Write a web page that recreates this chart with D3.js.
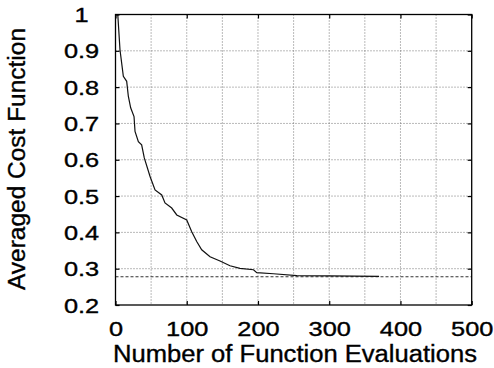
<!DOCTYPE html>
<html>
<head>
<meta charset="UTF-8">
<script src="https://d3js.org/d3.v7.min.js"></script>
<style>
  body { margin: 0; background: #fff; }
  text { font-family: "Liberation Sans", Arial, Helvetica, sans-serif; fill: #000; stroke: #000; stroke-width: 0.35px; }
</style>
</head>
<body>
<div id="chart"></div>
<script>
// averaged cost vs. number of function evaluations
var evals = [3.2, 6.3, 11, 15.7, 18, 21.3, 26, 27.4, 32.1, 36.7, 40.4, 48.5, 55.5, 64.9, 69.5,
             78.9, 86, 100, 107, 114, 121, 132.7, 146.7, 160.7, 174.7, 193.7, 198.3, 221.7,
             254.7, 300, 370];
var cost  = [1.0, 0.903, 0.83, 0.816, 0.775, 0.743, 0.719, 0.678, 0.65, 0.641, 0.605, 0.554,
             0.517, 0.503, 0.481, 0.467, 0.448, 0.434, 0.402, 0.375, 0.352, 0.333, 0.321,
             0.308, 0.301, 0.297, 0.289, 0.286, 0.281, 0.28, 0.279];
var asymptote = 0.278;

var xTicks = [0, 100, 200, 300, 400, 500];
var yTicks = [0.2, 0.3, 0.4, 0.5, 0.6, 0.7, 0.8, 0.9, 1];
var xGrid = [50, 100, 150, 200, 250, 300, 350, 400, 450];
var yGrid = [0.3, 0.4, 0.5, 0.6, 0.7, 0.8, 0.9];

var width = 494, height = 368;
var plotL = 115.5, plotR = 471.7, plotT = 14.5, plotB = 305;
var stretch = 1.3; // tick labels are drawn wide in the original

var svg = d3.select("#chart")
  .append("svg")
    .attr("width", width)
    .attr("height", height);

var x = d3.scaleLinear().domain([0, 500]).range([plotL, plotR]);
var y = d3.scaleLinear().domain([0.2, 1]).range([plotB, plotT]);

// grid
svg.append("g").selectAll("line")
  .data(xGrid).enter().append("line")
    .attr("x1", function(d) { return x(d); })
    .attr("x2", function(d) { return x(d); })
    .attr("y1", plotT).attr("y2", plotB)
    .attr("stroke", "#666").attr("stroke-width", 0.9)
    .attr("stroke-dasharray", "1,2");

svg.append("g").selectAll("line")
  .data(yGrid).enter().append("line")
    .attr("x1", plotL).attr("x2", plotR)
    .attr("y1", function(d) { return y(d); })
    .attr("y2", function(d) { return y(d); })
    .attr("stroke", "#666").attr("stroke-width", 0.9)
    .attr("stroke-dasharray", "1,2");

// asymptote
svg.append("line")
  .attr("x1", x(0)).attr("x2", x(500))
  .attr("y1", y(asymptote)).attr("y2", y(asymptote))
  .attr("stroke", "#333").attr("stroke-width", 1.1)
  .attr("stroke-dasharray", "3,2");

// curve
var pts = evals.map(function(d, i) { return [d, cost[i]]; });
svg.append("path")
  .datum(pts)
  .attr("fill", "none")
  .attr("stroke", "#111")
  .attr("stroke-width", 1.2)
  .attr("d", d3.line()
    .x(function(d) { return x(d[0]); })
    .y(function(d) { return y(d[1]); }));

// axes, ticks pointing inwards
var xAxis = svg.append("g")
  .attr("transform", "translate(0," + plotB + ")")
  .call(d3.axisBottom(x).tickValues(xTicks).tickSize(-4).tickSizeOuter(0).tickFormat(d3.format("d")));
xAxis.selectAll("text")
  .attr("y", 31).attr("dy", null)
  .attr("transform", "scale(" + stretch + ",1)")
  .style("font-size", "19.5px");

var yAxis = svg.append("g")
  .attr("transform", "translate(" + plotL + ",0)")
  .call(d3.axisLeft(y).tickValues(yTicks).tickSize(-4).tickSizeOuter(0).tickFormat(function(d) { return d === 1 ? "1" : d3.format(".1f")(d); }));
yAxis.selectAll("text")
  .attr("x", -34 / stretch).attr("dy", null).attr("y", 7)
  .attr("text-anchor", "middle")
  .attr("transform", "scale(" + stretch + ",1)")
  .style("font-size", "19.5px");

svg.append("g")
  .attr("transform", "translate(0," + plotT + ")")
  .call(d3.axisTop(x).tickValues(xTicks).tickSize(-4).tickSizeOuter(0).tickFormat(""));
svg.append("g")
  .attr("transform", "translate(" + plotR + ",0)")
  .call(d3.axisRight(y).tickValues(yTicks).tickSize(-4).tickSizeOuter(0).tickFormat(""));

svg.selectAll(".domain").remove();
svg.selectAll(".tick line").attr("stroke", "#000").attr("stroke-width", 1.2);

// frame
svg.append("rect")
  .attr("x", plotL).attr("y", plotT)
  .attr("width", plotR - plotL).attr("height", plotB - plotT)
  .attr("fill", "none").attr("stroke", "#000").attr("stroke-width", 1.3);

// titles
svg.append("text")
  .attr("x", 113).attr("y", 361.5)
  .attr("textLength", 364).attr("lengthAdjust", "spacingAndGlyphs")
  .style("font-size", "23px")
  .text("Number of Function Evaluations");

svg.append("text")
  .attr("transform", "translate(25,290) rotate(-90)")
  .attr("textLength", 262).attr("lengthAdjust", "spacingAndGlyphs")
  .style("font-size", "23px")
  .text("Averaged Cost Function");
</script>
</body>
</html>
